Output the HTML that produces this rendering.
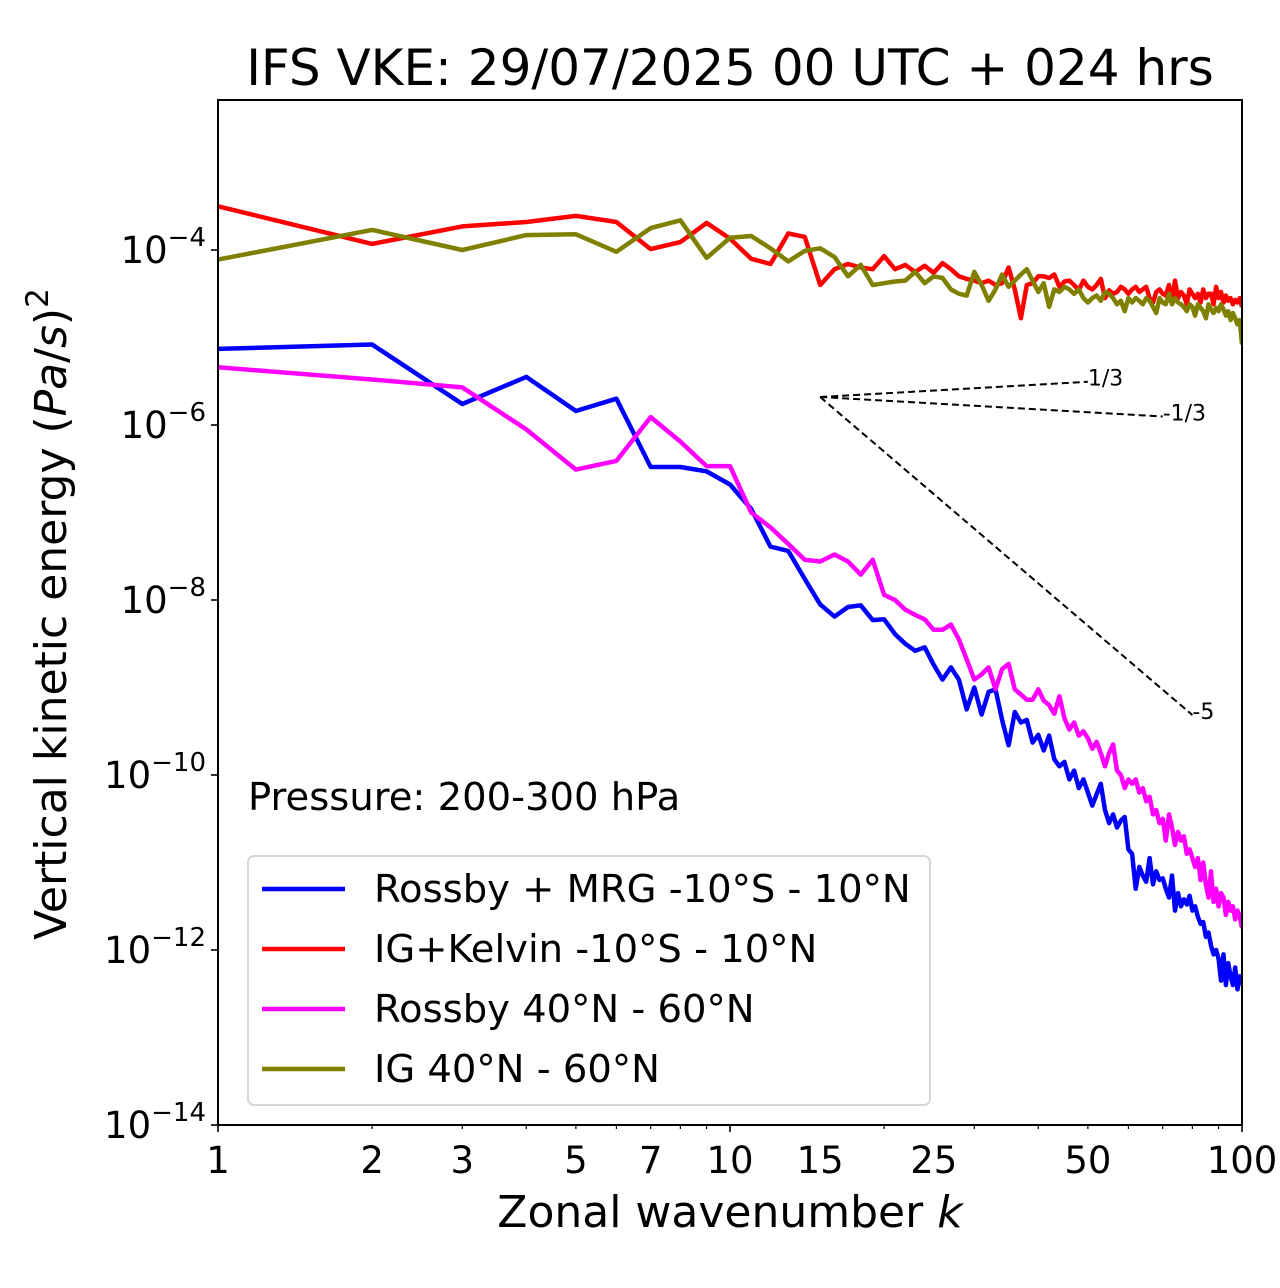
<!DOCTYPE html>
<html><head><meta charset="utf-8"><style>
body{margin:0;background:#fff;}
svg{display:block;font-family:"DejaVu Sans","Liberation Sans",sans-serif;}
</style></head><body>
<svg id="chart" width="1280" height="1288" viewBox="0 0 1280 1288"></svg>
<script>
const kValues = Array.from({length:100},(_,i)=>i+1);
const rossbyMrgExp = [-5.13,-5.08,-5.76,-5.45,-5.84,-5.70,-6.48,-6.48,-6.53,-6.68,-6.96,-7.39,-7.44,-7.76,-8.05,-8.19,-8.08,-8.06,-8.23,-8.22,-8.39,-8.50,-8.58,-8.54,-8.74,-8.91,-8.77,-8.91,-9.25,-9.00,-9.31,-9.05,-9.02,-9.37,-9.66,-9.28,-9.40,-9.37,-9.63,-9.54,
-9.72,-9.55,-9.82,-9.90,-9.85,-10.05,-9.95,-10.15,-10.05,-10.20,-10.35,-10.22,-10.10,-10.40,-10.55,-10.45,-10.60,-10.52,-10.48,-10.85,-10.90,-11.30,-11.05,-11.15,-11.22,-10.95,-11.25,-11.10,-11.20,-11.18,-11.30,-11.40,-11.15,-11.55,-11.35,-11.50,-11.42,-11.48,-11.38,-11.55,-11.50,-11.62,-11.70,-11.68,-11.85,-11.80,-11.95,-12.05,-12.00,-12.10,-12.35,-12.05,-12.40,-12.15,-12.30,-12.40,-12.20,-12.45,-12.30,-12.40];
const igKelvinExp = [-3.50,-3.93,-3.73,-3.68,-3.61,-3.68,-3.99,-3.91,-3.69,-3.87,-4.10,-4.16,-3.81,-3.85,-4.40,-4.22,-4.16,-4.20,-4.22,-4.07,
-4.22,-4.17,-4.25,-4.18,-4.26,-4.15,-4.22,-4.30,-4.33,-4.35,-4.38,-4.35,-4.40,-4.38,-4.20,-4.45,-4.78,-4.40,-4.38,-4.30,
-4.30,-4.32,-4.28,-4.42,-4.36,-4.35,-4.40,-4.46,-4.35,-4.42,-4.45,-4.40,-4.33,-4.55,-4.46,-4.50,-4.48,-4.42,-4.45,-4.50,
-4.45,-4.42,-4.48,-4.45,-4.42,-4.55,-4.60,-4.48,-4.45,-4.50,-4.52,-4.40,-4.60,-4.35,-4.55,-4.48,-4.52,-4.62,-4.45,-4.50,
-4.55,-4.50,-4.60,-4.45,-4.55,-4.50,-4.50,-4.62,-4.42,-4.55,-4.48,-4.60,-4.52,-4.58,-4.55,-4.62,-4.57,-4.60,-4.55,-4.65];
const rossbyMidExp = [-5.34,-5.48,-5.57,-6.05,-6.51,-6.41,-5.91,-6.19,-6.47,-6.47,-7.00,-7.17,-7.36,-7.54,-7.56,-7.48,-7.56,-7.71,-7.54,-7.94,-8.00,-8.11,-8.17,-8.22,-8.34,-8.34,-8.28,-8.45,-8.68,-8.91,-8.85,-8.77,-9.02,-8.79,-8.73,-9.02,-9.08,-9.14,-9.14,-9.02,
-9.15,-9.20,-9.30,-9.10,-9.35,-9.48,-9.40,-9.55,-9.50,-9.58,-9.70,-9.62,-9.75,-9.90,-9.75,-9.65,-9.95,-10.00,-10.15,-10.05,-10.10,-10.05,-10.20,-10.15,-10.30,-10.25,-10.45,-10.40,-10.55,-10.50,-10.75,-10.45,-10.60,-10.80,-10.65,-10.75,-10.70,-10.90,-10.85,-10.95,-11.05,-10.95,-11.20,-11.00,-11.25,-11.40,-11.10,-11.45,-11.30,-11.50,-11.35,-11.40,-11.60,-11.45,-11.55,-11.50,-11.65,-11.55,-11.62,-11.75];
const igMidExp = [-4.11,-3.77,-4.00,-3.83,-3.82,-4.02,-3.75,-3.66,-4.09,-3.86,-3.84,-3.98,-4.13,-4.01,-3.98,-4.08,-4.30,-4.17,-4.40,-4.38,
-4.36,-4.35,-4.25,-4.38,-4.30,-4.32,-4.45,-4.50,-4.52,-4.25,-4.40,-4.58,-4.45,-4.28,-4.42,-4.35,-4.28,-4.22,-4.35,-4.48,
-4.38,-4.65,-4.45,-4.48,-4.42,-4.45,-4.50,-4.45,-4.55,-4.60,-4.55,-4.52,-4.58,-4.48,-4.50,-4.55,-4.62,-4.58,-4.70,-4.55,
-4.60,-4.55,-4.58,-4.62,-4.55,-4.58,-4.65,-4.72,-4.55,-4.60,-4.62,-4.50,-4.62,-4.55,-4.60,-4.62,-4.65,-4.70,-4.62,-4.65,
-4.75,-4.62,-4.66,-4.70,-4.78,-4.62,-4.68,-4.72,-4.66,-4.70,-4.62,-4.68,-4.75,-4.70,-4.80,-4.72,-4.78,-4.85,-4.80,-5.08];
const xTickLabels = [1,2,3,5,7,10,15,25,50,100];
const yTickExps = [-4,-6,-8,-10,-12,-14];
const slopes = [1/3,-1/3,-5];
const slopeLabels = ["1/3","-1/3","-5"];
const slopeEndK = [50,70,80];
const slopeStartK = 15, slopeStartExp = -5.68;

const L=218,R=1242,T=100,B=1125;
const xS=k=>L+(R-L)*Math.log10(k)/2;
const yS=e=>B-(e+14)*87.5;
const svg=document.getElementById('chart');
const NS='http://www.w3.org/2000/svg';
function mk(tag,attrs,parent){const el=document.createElementNS(NS,tag);for(const a in attrs)el.setAttribute(a,attrs[a]);(parent||svg).appendChild(el);return el;}

let t=mk('text',{x:730,y:85,'font-size':50,'text-anchor':'middle'});t.textContent='IFS VKE: 29/07/2025 00 UTC + 024 hrs';



const series=[[rossbyMrgExp,'#0000ff','rossby-mrg-line'],[igKelvinExp,'#ff0000','ig-kelvin-line'],[rossbyMidExp,'#ff00ff','rossby-midlat-line'],[igMidExp,'#808000','ig-midlat-line']];
const clip=mk('clipPath',{id:'pc'});mk('rect',{x:L,y:T,width:R-L,height:B-T},clip);
series.forEach(([d,c,n])=>{
  const p=mk('polyline',{points:d.map((e,i)=>xS(kValues[i]).toFixed(1)+','+yS(e).toFixed(1)).join(' '),fill:'none',stroke:c,'stroke-width':4.5,'stroke-linejoin':'round','clip-path':'url(#pc)'});
  
  
});
slopes.forEach((s,i)=>{
  const x1=xS(slopeStartK),y1=yS(slopeStartExp),ek=slopeEndK[i],e2=slopeStartExp+s*(Math.log10(ek)-Math.log10(slopeStartK));
  const ln=mk('line',{x1,y1,x2:xS(ek),y2:yS(e2),stroke:'#000','stroke-width':2,'stroke-dasharray':'7,4'});
  
  
  const tx=mk('text',{x:xS(ek),y:yS(e2)+4,'font-size':22});tx.textContent=slopeLabels[i];
  
  
});
const fr=mk('rect',{x:L,y:T,width:R-L,height:B-T,fill:'none',stroke:'#000','stroke-width':2});


for(let dec=1;dec<=100;dec*=10){for(let m=1;m<10;m++){const k=dec*m;if(k>100)break;const x=xS(k);const major=(m===1);mk('line',{x1:x,x2:x,y1:B,y2:B+(major?7:4),stroke:'#000','stroke-width':major?1.6:1.2});}}
xTickLabels.forEach(k=>{const tx=mk('text',{x:xS(k),y:B+48,'font-size':37,'text-anchor':'middle'});tx.textContent=k;
  
  });
yTickExps.forEach(e=>{const y=yS(e);mk('line',{x1:L-7,x2:L,y1:y,y2:y,stroke:'#000','stroke-width':1.6});
  const tx=mk('text',{x:L-12,y:y+13,'font-size':37,'text-anchor':'end'});
  tx.innerHTML='10<tspan dy="-17" font-size="26">\u2212'+(-e)+'</tspan>';
  
  });
t=mk('text',{x:730,y:1227,'font-size':44,'text-anchor':'middle'});t.innerHTML='Zonal wavenumber <tspan font-style="italic">k</tspan>';


t=mk('text',{x:0,y:0,'font-size':44,'text-anchor':'middle',transform:'translate(66,614) rotate(-90)'});
t.innerHTML='Vertical kinetic energy (<tspan font-style="italic">Pa</tspan>/<tspan font-style="italic">s</tspan>)<tspan dy="-18" font-size="31">2</tspan>';


t=mk('text',{x:248,y:810,'font-size':38.5});t.textContent='Pressure: 200-300 hPa';


const lg=mk('g',{});


mk('rect',{x:248,y:856,width:682,height:249,rx:6,fill:'#fff',stroke:'#d6d6d6','stroke-width':2},lg);
const legendNames=['Rossby + MRG -10°S - 10°N','IG+Kelvin -10°S - 10°N','Rossby 40°N - 60°N','IG 40°N - 60°N'];
legendNames.forEach((nm,i)=>{const y=889+i*60;const g=mk('g',{},lg);
  
  
  mk('line',{x1:262,x2:345,y1:y,y2:y,stroke:series[i][1],'stroke-width':4.5},g);
  const tx=mk('text',{x:374,y:y+13,'font-size':38.5},g);tx.textContent=nm;});
</script>
</body></html>
